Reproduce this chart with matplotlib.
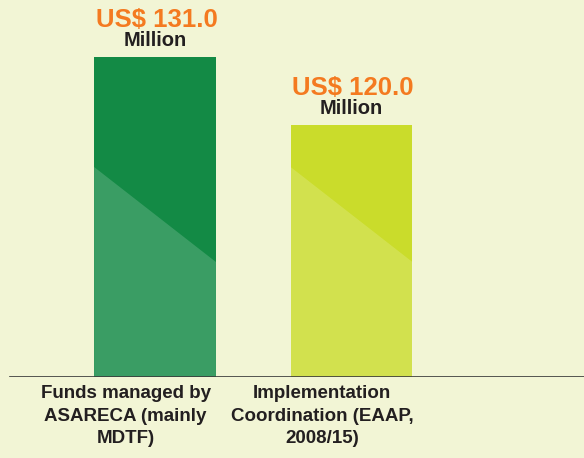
import numpy as np
import matplotlib.pyplot as plt
from matplotlib.patches import Polygon
from matplotlib.transforms import blended_transform_factory

plt.rcParams['font.family'] = ['Liberation Sans', 'DejaVu Sans']

categories = ['Funds managed by\nASARECA (mainly\nMDTF)',
              'Implementation\nCoordination (EAAP,\n2008/15)']
values = [131.0, 120.0]
value_labels = ['US$ 131.0', 'US$ 120.0']
bar_colors = ['#138A45', '#CADC2B']

bg = '#F2F5D5'
base = 79.2  # bars are not drawn from zero in the original

fig = plt.figure(figsize=(5.84, 4.58), dpi=100, facecolor=bg)
ax = fig.add_axes([0, (458 - 377) / 458, 1, 377 / 458])
ax.set_facecolor(bg)

x = np.arange(len(values))
width = 0.62
bars = ax.bar(x, np.array(values) - base, bottom=base, width=width,
              color=bar_colors, zorder=2)

ax.set_xlim(-0.789, 2.183)
ax.set_ylim(base, base + 377 / 6.18)

# lighter diagonal shading on the lower part of each bar
trans = blended_transform_factory(ax.transData, ax.transAxes)
for b in bars:
    x0 = b.get_x()
    x1 = x0 + b.get_width()
    poly = Polygon([(x0, 0.557), (x1, 0.305), (x1, 0), (x0, 0)],
                   closed=True, transform=trans, facecolor='white',
                   alpha=0.17, edgecolor='none', zorder=3)
    ax.add_patch(poly)

for xi, v, lab in zip(x, values, value_labels):
    ax.annotate(lab, (xi, v), xytext=(1, 21.5), textcoords='offset points',
                ha='center', va='baseline', color='#F47A20',
                fontsize=18.5, fontweight='bold', annotation_clip=False)
    ax.annotate('Million', (xi, v), xytext=(0, 7.5), textcoords='offset points',
                ha='center', va='baseline', color='#231F20',
                fontsize=14.5, fontweight='bold', annotation_clip=False)

# baseline
ax.axhline(base, xmin=10 / 584, xmax=1, color='#3A3A3A', lw=1.2, zorder=4)

for xi, cat in zip(x, categories):
    ax.annotate(cat, (xi - 0.15, base), xytext=(0, -6),
                textcoords='offset points', ha='center', va='top',
                color='#231F20', fontsize=13.5, fontweight='bold',
                linespacing=1.42, annotation_clip=False)

for s in ax.spines.values():
    s.set_visible(False)
ax.set_xticks([])
ax.set_yticks([])

fig.savefig('out.png', dpi=100, facecolor=bg)
